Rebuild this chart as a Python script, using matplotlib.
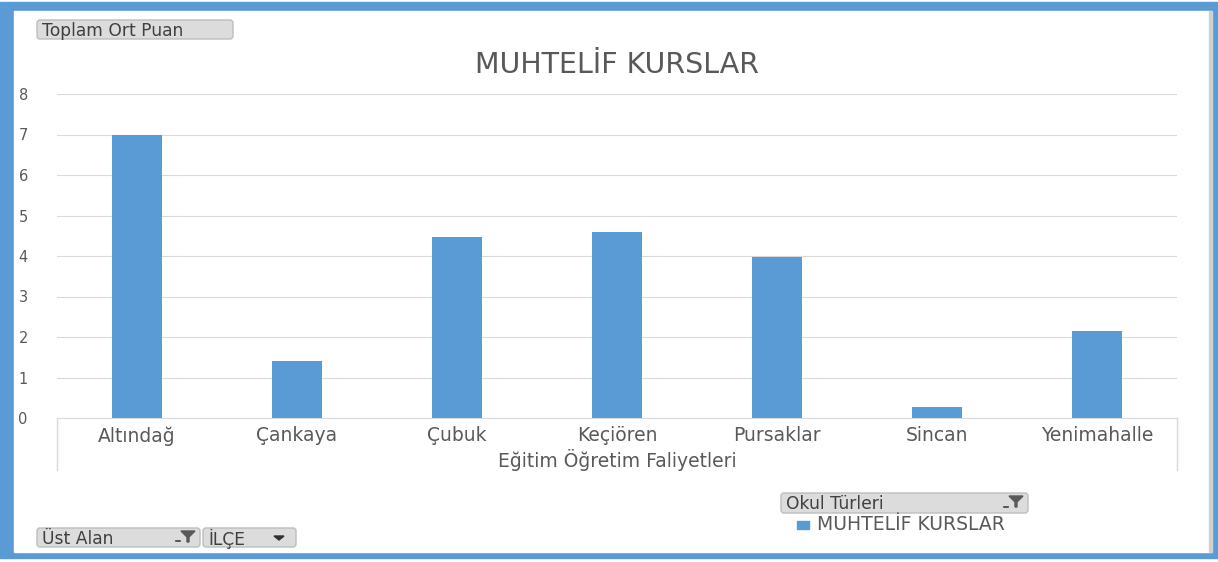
import numpy as np
import matplotlib.pyplot as plt
from matplotlib.patches import FancyBboxPatch, Rectangle, Polygon

# pivot chart: MUHTELİF KURSLAR, Toplam Ort Puan by ilçe
districts = ['Altındağ', 'Çankaya', 'Çubuk', 'Keçiören', 'Pursaklar', 'Sincan', 'Yenimahalle']
scores = [7.0, 1.41, 4.47, 4.59, 3.98, 0.27, 2.15]
yticks = [0, 1, 2, 3, 4, 5, 6, 7, 8]

W, H = 1218, 562
blue = '#5B9BD5'
gray_txt = '#595959'
plt.rcParams['font.family'] = ['DejaVu Sans']

fig = plt.figure(figsize=(W / 100, H / 100), dpi=100)


def px(x0, y0, x1, y1):
    # pixel box (top-left origin) -> figure fraction rect
    return [x0 / W, 1 - y1 / H, (x1 - x0) / W, (y1 - y0) / H]


# outer frame
bg = fig.add_axes([0, 0, 1, 1])
bg.set_xlim(0, W)
bg.set_ylim(H, 0)
bg.axis('off')
bg.add_patch(Rectangle((0, 2), W, 556, color=blue, zorder=0))
bg.add_patch(Rectangle((14, 11), 1197, 541, color='white', zorder=1))
bg.add_patch(Rectangle((1209, 11), 3, 541, color='#d0d0d0', zorder=1))

# plot area
ax = fig.add_axes(px(57, 94, 1177, 418))
x = np.arange(len(districts))
ax.bar(x, scores, width=0.31, color=blue, zorder=3)
ax.set_xlim(-0.5, len(districts) - 0.5)
ax.set_ylim(0, 8)
ax.set_yticks(yticks)
ax.set_yticklabels([str(t) for t in yticks], color=gray_txt, fontsize=10.5)
ax.tick_params(axis='y', length=0, pad=21)
ax.set_xticks(x)
ax.set_xticklabels(districts, color=gray_txt, fontsize=13.5)
ax.tick_params(axis='x', length=0, pad=6)
ax.grid(axis='y', color='#d9d9d9', linewidth=0.8, zorder=0)
for s in ['top', 'right', 'left']:
    ax.spines[s].set_visible(False)
ax.spines['bottom'].set_color('#d9d9d9')
ax.set_xlabel('Eğitim Öğretim Faliyetleri', color=gray_txt, fontsize=13.5, labelpad=2)
ax.set_title('MUHTELİF KURSLAR', color=gray_txt, fontsize=20.5, pad=15)

# category axis box edges
bg.plot([57, 57], [418, 470], color='#d9d9d9', lw=1, zorder=2)
bg.plot([1177, 1177], [418, 470], color='#d9d9d9', lw=1, zorder=2)


def button(x0, y0, x1, y1, label, filt=False, arrow=False):
    bg.add_patch(FancyBboxPatch((x0, y0), x1 - x0, y1 - y0,
                                boxstyle='round,pad=0,rounding_size=3',
                                fc='#dcdcdc', ec='#bdbdbd', lw=1, zorder=3))
    bg.text(x0 + 5, (y0 + y1) / 2 + 1, label, fontsize=12.3, color='#404040',
            va='center', ha='left', zorder=4)
    if filt:
        cx = x1 - 12
        bg.add_patch(Polygon([[cx - 7, y0 + 3], [cx + 7, y0 + 3], [cx + 1, y0 + 9],
                              [cx + 1, y0 + 14], [cx - 1, y0 + 14], [cx - 1, y0 + 9]],
                             color='#595959', zorder=4))
        bg.plot([cx - 12, cx - 8], [y1 - 6, y1 - 6], color='#404040', lw=1.2, zorder=4)
    if arrow:
        cx = x1 - 17
        bg.add_patch(Polygon([[cx - 5, y0 + 8], [cx + 5, y0 + 8], [cx, y0 + 12]],
                             color='#303030', zorder=4))


button(37, 20, 233, 39, 'Toplam Ort Puan')
button(37, 528, 200, 547, 'Üst Alan', filt=True)
button(203, 528, 296, 547, 'İLÇE', arrow=True)
button(781, 493, 1028, 513, 'Okul Türleri', filt=True)

# legend
bg.add_patch(Rectangle((797, 521), 12, 8, color=blue, zorder=3))
bg.text(817, 525, 'MUHTELİF KURSLAR', fontsize=13.5, color=gray_txt, va='center', ha='left')

fig.savefig('out.png', dpi=100)
